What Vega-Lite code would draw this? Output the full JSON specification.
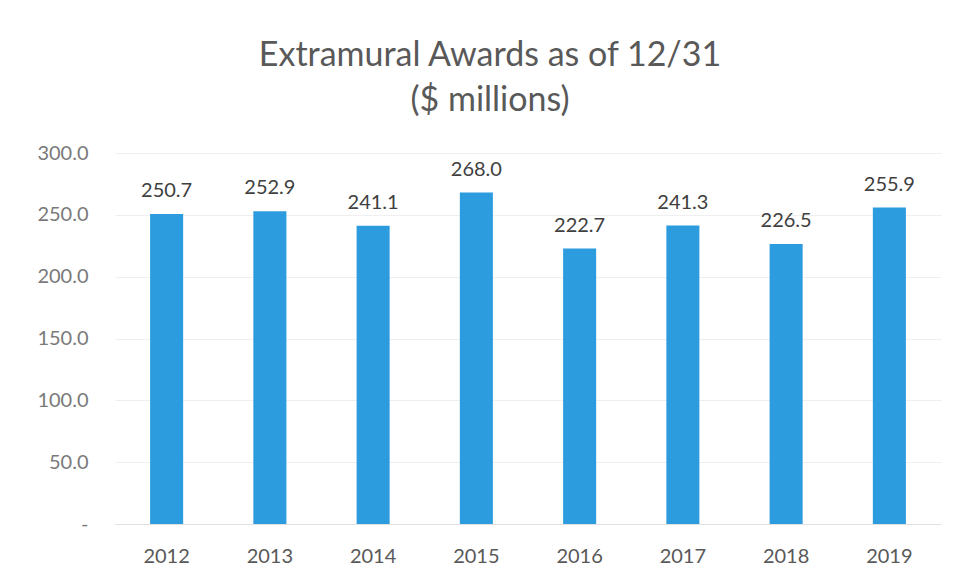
{
  "$schema": "https://vega.github.io/schema/vega-lite/v6.json",
  "autosize": {"type": "none"},
  "width": 826,
  "height": 371,
  "padding": {"left": 115, "top": 153, "right": 20, "bottom": 57},
  "background": "white",
  "config": {"view": {"stroke": null}, "font": "Lato"},
  "title": {
    "text": ["Extramural Awards as of 12/31", "($ millions)"],
    "fontSize": 34,
    "fontWeight": "normal",
    "color": "#595959",
    "font": "Lato",
    "lineHeight": 45,
    "anchor": "middle",
    "dx": -38,
    "offset": 25
  },
  "data": {
    "values": [
      {"year": "2012", "value": 250.7},
      {"year": "2013", "value": 252.9},
      {"year": "2014", "value": 241.1},
      {"year": "2015", "value": 268.0},
      {"year": "2016", "value": 222.7},
      {"year": "2017", "value": 241.3},
      {"year": "2018", "value": 226.5},
      {"year": "2019", "value": 255.9}
    ]
  },
  "encoding": {
    "x": {
      "field": "year",
      "type": "ordinal",
      "scale": {"paddingInner": 0.68, "paddingOuter": 0.34},
      "axis": {
        "title": null,
        "labelAngle": 0,
        "labelFontSize": 20,
        "labelColor": "#595959",
        "labelPadding": 22,
        "ticks": false,
        "domainColor": "#e0e0e0",
        "domainWidth": 1
      }
    },
    "y": {
      "field": "value",
      "type": "quantitative",
      "scale": {"domain": [0, 300]},
      "axis": {
        "title": null,
        "values": [0, 50, 100, 150, 200, 250, 300],
        "labelExpr": "datum.value == 0 ? '-' : format(datum.value, '.1f')",
        "labelFontSize": 20,
        "labelColor": "#7a7a7a",
        "labelPadding": 27,
        "ticks": false,
        "domain": false,
        "gridColor": "#efefef",
        "gridWidth": 1
      }
    }
  },
  "layer": [
    {"mark": {"type": "bar", "color": "#2D9CDF"}},
    {
      "mark": {"type": "text", "dy": -23, "fontSize": 20, "color": "#404040", "font": "Lato"},
      "encoding": {"text": {"field": "value", "type": "quantitative", "format": ".1f"}}
    }
  ]
}
